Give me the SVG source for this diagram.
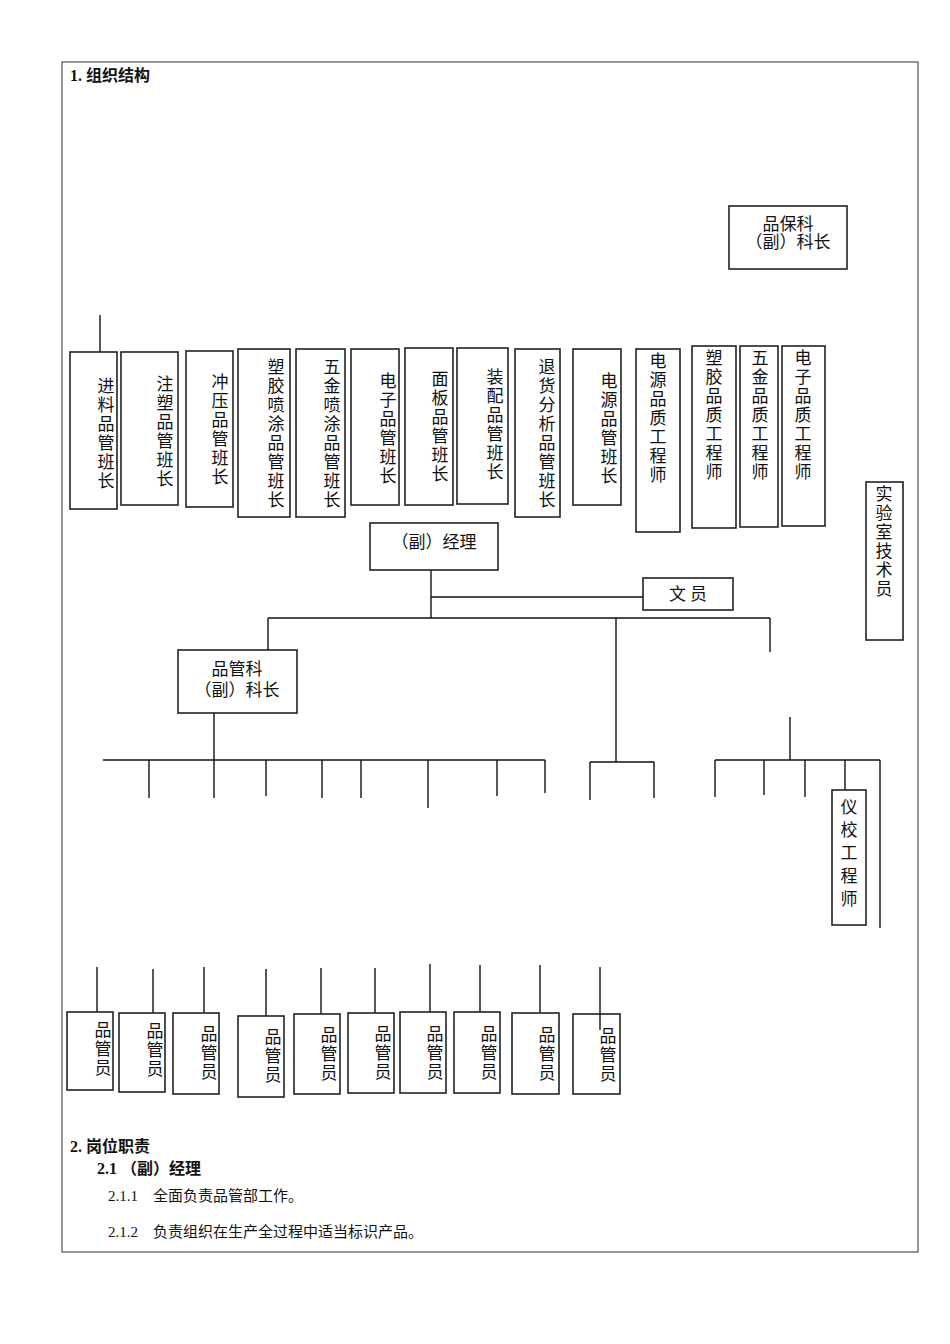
<svg xmlns="http://www.w3.org/2000/svg" width="950" height="1344" viewBox="0 0 950 1344">
<style>
.b{fill:#fff;stroke:#222;stroke-width:1.6}
.l{stroke:#111;stroke-width:1.4;fill:none}
text{font-family:"Liberation Serif","Noto Sans CJK SC",serif;font-size:17px;fill:#111}
.v{text-anchor:middle}
.h{font-weight:bold;font-size:16px}
.s{font-size:15px}
</style>
<rect x="0" y="0" width="950" height="1344" fill="#fff"/>
<rect x="62" y="62" width="856" height="1190" fill="none" stroke="#333" stroke-width="1"/>
<text class="h" x="70" y="81">1.  组织结构</text>
<g id="connectors" class="l">
<path d="M100 315V352"/>
<path d="M431 570V618M431 597H643M268 618H770M268 618V650M616 618V762M770 618V652"/>
<path d="M214 713V798M103 760H545M149 760V798M266 760V796M322 760V798M361 760V798M428 760V808M497 760V796M545 760V793"/>
<path d="M590 762H654M590 762V800M654 762V798"/>
<path d="M790 717V760M715 760H880M715 760V797M764 760V795M805 760V797M845 760V790M880 760V928"/>
<path d="M97 967V1012M153 969V1013M204 967V1013M266 969V1016M321 968V1014M375 968V1013M430 964V1012M480 965V1012M540 965V1013M600 967V1030"/>
</g>
<g id="n1"><rect class="b" x="70" y="352" width="47" height="157"/><text class="v"><tspan x="106" y="392">进</tspan><tspan x="106" dy="19">料</tspan><tspan x="106" dy="19">品</tspan><tspan x="106" dy="19">管</tspan><tspan x="106" dy="19">班</tspan><tspan x="106" dy="19">长</tspan></text></g>
<g id="n2"><rect class="b" x="121" y="352" width="57" height="153"/><text class="v"><tspan x="165" y="390">注</tspan><tspan x="165" dy="19">塑</tspan><tspan x="165" dy="19">品</tspan><tspan x="165" dy="19">管</tspan><tspan x="165" dy="19">班</tspan><tspan x="165" dy="19">长</tspan></text></g>
<g id="n3"><rect class="b" x="186" y="351" width="47" height="156"/><text class="v"><tspan x="220" y="388">冲</tspan><tspan x="220" dy="19">压</tspan><tspan x="220" dy="19">品</tspan><tspan x="220" dy="19">管</tspan><tspan x="220" dy="19">班</tspan><tspan x="220" dy="19">长</tspan></text></g>
<g id="n4"><rect class="b" x="238" y="349" width="52" height="168"/><text class="v"><tspan x="276" y="373">塑</tspan><tspan x="276" dy="19">胶</tspan><tspan x="276" dy="19">喷</tspan><tspan x="276" dy="19">涂</tspan><tspan x="276" dy="19">品</tspan><tspan x="276" dy="19">管</tspan><tspan x="276" dy="19">班</tspan><tspan x="276" dy="19">长</tspan></text></g>
<g id="n5"><rect class="b" x="296" y="349" width="49" height="168"/><text class="v"><tspan x="332" y="373">五</tspan><tspan x="332" dy="19">金</tspan><tspan x="332" dy="19">喷</tspan><tspan x="332" dy="19">涂</tspan><tspan x="332" dy="19">品</tspan><tspan x="332" dy="19">管</tspan><tspan x="332" dy="19">班</tspan><tspan x="332" dy="19">长</tspan></text></g>
<g id="n6"><rect class="b" x="351" y="349" width="48" height="156"/><text class="v"><tspan x="388" y="387">电</tspan><tspan x="388" dy="19">子</tspan><tspan x="388" dy="19">品</tspan><tspan x="388" dy="19">管</tspan><tspan x="388" dy="19">班</tspan><tspan x="388" dy="19">长</tspan></text></g>
<g id="n7"><rect class="b" x="405" y="348" width="48" height="157"/><text class="v"><tspan x="440" y="385">面</tspan><tspan x="440" dy="19">板</tspan><tspan x="440" dy="19">品</tspan><tspan x="440" dy="19">管</tspan><tspan x="440" dy="19">班</tspan><tspan x="440" dy="19">长</tspan></text></g>
<g id="n8"><rect class="b" x="457" y="348" width="51" height="156"/><text class="v"><tspan x="495" y="383">装</tspan><tspan x="495" dy="19">配</tspan><tspan x="495" dy="19">品</tspan><tspan x="495" dy="19">管</tspan><tspan x="495" dy="19">班</tspan><tspan x="495" dy="19">长</tspan></text></g>
<g id="n9"><rect class="b" x="515" y="349" width="45" height="168"/><text class="v"><tspan x="547" y="373">退</tspan><tspan x="547" dy="19">货</tspan><tspan x="547" dy="19">分</tspan><tspan x="547" dy="19">析</tspan><tspan x="547" dy="19">品</tspan><tspan x="547" dy="19">管</tspan><tspan x="547" dy="19">班</tspan><tspan x="547" dy="19">长</tspan></text></g>
<g id="n10"><rect class="b" x="573" y="349" width="48" height="156"/><text class="v"><tspan x="609" y="387">电</tspan><tspan x="609" dy="19">源</tspan><tspan x="609" dy="19">品</tspan><tspan x="609" dy="19">管</tspan><tspan x="609" dy="19">班</tspan><tspan x="609" dy="19">长</tspan></text></g>
<g id="n11"><rect class="b" x="636" y="349" width="44" height="183"/><text class="v"><tspan x="658" y="367">电</tspan><tspan x="658" dy="19">源</tspan><tspan x="658" dy="19">品</tspan><tspan x="658" dy="19">质</tspan><tspan x="658" dy="19">工</tspan><tspan x="658" dy="19">程</tspan><tspan x="658" dy="19">师</tspan></text></g>
<g id="n12"><rect class="b" x="692" y="346" width="44" height="182"/><text class="v"><tspan x="714" y="364">塑</tspan><tspan x="714" dy="19">胶</tspan><tspan x="714" dy="19">品</tspan><tspan x="714" dy="19">质</tspan><tspan x="714" dy="19">工</tspan><tspan x="714" dy="19">程</tspan><tspan x="714" dy="19">师</tspan></text></g>
<g id="n13"><rect class="b" x="740" y="346" width="38" height="181"/><text class="v"><tspan x="760" y="364">五</tspan><tspan x="760" dy="19">金</tspan><tspan x="760" dy="19">品</tspan><tspan x="760" dy="19">质</tspan><tspan x="760" dy="19">工</tspan><tspan x="760" dy="19">程</tspan><tspan x="760" dy="19">师</tspan></text></g>
<g id="n14"><rect class="b" x="782" y="346" width="43" height="180"/><text class="v"><tspan x="803" y="364">电</tspan><tspan x="803" dy="19">子</tspan><tspan x="803" dy="19">品</tspan><tspan x="803" dy="19">质</tspan><tspan x="803" dy="19">工</tspan><tspan x="803" dy="19">程</tspan><tspan x="803" dy="19">师</tspan></text></g>
<g id="lab"><rect class="b" x="866" y="482" width="37" height="158"/><text class="v"><tspan x="884" y="500">实</tspan><tspan x="884" dy="19">验</tspan><tspan x="884" dy="19">室</tspan><tspan x="884" dy="19">技</tspan><tspan x="884" dy="19">术</tspan><tspan x="884" dy="19">员</tspan></text></g>
<g id="pbk"><rect class="b" x="729" y="206" width="118" height="63"/><text class="v" x="788" y="230">品保科</text><text class="v" x="788" y="248">（副）科长</text></g>
<g id="mgr"><rect class="b" x="370" y="523" width="128" height="47"/><text class="v" x="434" y="548">（副）经理</text></g>
<g id="clerk"><rect class="b" x="643" y="578" width="90" height="32"/><text class="v" x="688" y="600">文 员</text></g>
<g id="pgk"><rect class="b" x="178" y="650" width="119" height="63"/><text class="v" x="237" y="675">品管科</text><text class="v" x="237" y="696">（副）科长</text></g>
<g id="yx"><rect class="b" x="832" y="790" width="34" height="135"/><text class="v"><tspan x="849" y="813">仪</tspan><tspan x="849" dy="23">校</tspan><tspan x="849" dy="23">工</tspan><tspan x="849" dy="23">程</tspan><tspan x="849" dy="23">师</tspan></text></g>
<g id="q1"><rect class="b" x="67" y="1012" width="46" height="78"/><text class="v"><tspan x="103" y="1036">品</tspan><tspan x="103" dy="19">管</tspan><tspan x="103" dy="19">员</tspan></text></g>
<g id="q2"><rect class="b" x="119" y="1013" width="46" height="79"/><text class="v"><tspan x="155" y="1037">品</tspan><tspan x="155" dy="19">管</tspan><tspan x="155" dy="19">员</tspan></text></g>
<g id="q3"><rect class="b" x="173" y="1013" width="46" height="81"/><text class="v"><tspan x="209" y="1040">品</tspan><tspan x="209" dy="19">管</tspan><tspan x="209" dy="19">员</tspan></text></g>
<g id="q4"><rect class="b" x="238" y="1016" width="46" height="81"/><text class="v"><tspan x="273" y="1043">品</tspan><tspan x="273" dy="19">管</tspan><tspan x="273" dy="19">员</tspan></text></g>
<g id="q5"><rect class="b" x="294" y="1014" width="46" height="80"/><text class="v"><tspan x="329" y="1041">品</tspan><tspan x="329" dy="19">管</tspan><tspan x="329" dy="19">员</tspan></text></g>
<g id="q6"><rect class="b" x="348" y="1013" width="46" height="80"/><text class="v"><tspan x="383" y="1040">品</tspan><tspan x="383" dy="19">管</tspan><tspan x="383" dy="19">员</tspan></text></g>
<g id="q7"><rect class="b" x="400" y="1012" width="46" height="81"/><text class="v"><tspan x="435" y="1040">品</tspan><tspan x="435" dy="19">管</tspan><tspan x="435" dy="19">员</tspan></text></g>
<g id="q8"><rect class="b" x="454" y="1012" width="46" height="81"/><text class="v"><tspan x="489" y="1040">品</tspan><tspan x="489" dy="19">管</tspan><tspan x="489" dy="19">员</tspan></text></g>
<g id="q9"><rect class="b" x="512" y="1013" width="47" height="81"/><text class="v"><tspan x="547" y="1041">品</tspan><tspan x="547" dy="19">管</tspan><tspan x="547" dy="19">员</tspan></text></g>
<g id="q10"><rect class="b" x="573" y="1014" width="47" height="80"/><text class="v"><tspan x="608" y="1042">品</tspan><tspan x="608" dy="19">管</tspan><tspan x="608" dy="19">员</tspan></text></g>
<path d="M600 1014V1030" stroke="#111" stroke-width="1.4"/>
<text class="h" x="70" y="1152">2. 岗位职责</text>
<text class="h" x="97" y="1174">2.1 （副）经理</text>
<text class="s" x="108" y="1201">2.1.1　全面负责品管部工作。</text>
<text class="s" x="108" y="1237">2.1.2　负责组织在生产全过程中适当标识产品。</text>
</svg>
